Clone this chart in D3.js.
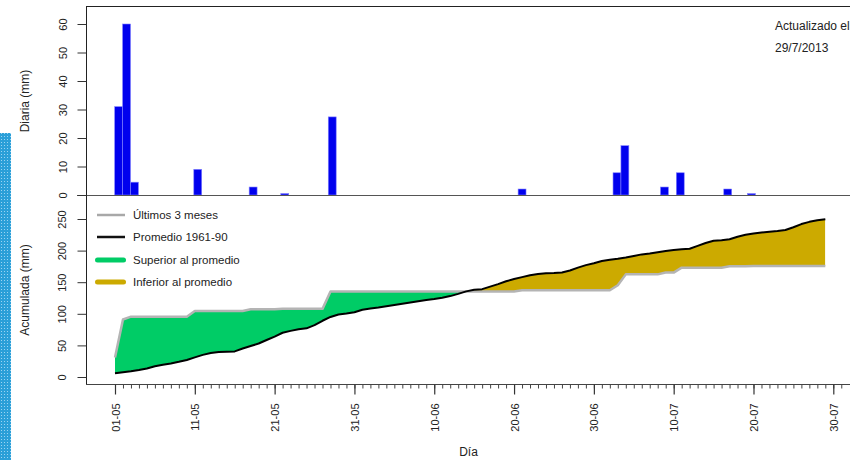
<!DOCTYPE html>
<html>
<head>
<meta charset="utf-8">
<script src="https://cdn.jsdelivr.net/npm/d3@7/dist/d3.min.js"></script>
<style>
  html, body { margin: 0; padding: 0; background: #fff; }
  svg { display: block; font-family: "Liberation Sans", Arial, sans-serif; }
</style>
</head>
<body>
<svg id="chart" width="850" height="460"></svg>
<script>
// Day labels shown on the x axis (every 10 days from 1 May)
const dayTicks = [0, 10, 20, 30, 40, 50, 60, 70, 80, 90];
const dayTickLabels = ["01-05", "11-05", "21-05", "31-05", "10-06", "20-06", "30-06", "10-07", "20-07", "30-07"];

// Daily rainfall (mm), 1 May - 29 Jul 2013, as [day index, mm]
const rainDays = [0, 1, 2, 10, 17, 21, 27, 51, 63, 64, 69, 71, 77, 80];
const rainMm   = [31, 60, 4.5, 9, 2.8, 0.5, 27.4, 2.1, 7.8, 17.3, 2.8, 7.8, 2.1, 0.5];

// Cumulative mean 1961-90 (mm), one value per day from 1 May
const meanCum = [
  6, 7.5, 9, 11, 13.5, 17, 19.5, 21.5, 24, 27,
  31, 35, 38, 39.5, 40, 40.5, 45, 49, 53, 58.5,
  64, 70, 73, 75.5, 77, 82, 89, 95, 99, 100.5,
  102.5, 106.5, 108.5, 110, 112, 114, 116, 118, 120, 122,
  123.5, 125.5, 128, 131.5, 135.5, 138, 139, 143, 147, 151.5,
  155, 158, 161, 163, 164, 164.5, 165.5, 168.5, 173, 177,
  180, 183.5, 185.5, 187, 189, 191.5, 194, 195.5, 197.5, 199.5,
  201, 202, 203, 207.5, 212, 215.5, 216.5, 218, 222, 225,
  227, 228.5, 230, 231, 232.5, 237, 242, 245.5, 248, 249.5
];

const topTicks = [0, 10, 20, 30, 40, 50, 60];
const accTicks = [0, 50, 100, 150, 200, 250];

const legendLabels = ["Últimos 3 meses", "Promedio 1961-90", "Superior al promedio", "Inferior al promedio"];

const nDays = meanCum.length;
// Full daily series and its running total
const daily = d3.range(nDays).map(() => 0);
rainDays.forEach((d, i) => { daily[d] = rainMm[i]; });
const obsCum = d3.cumsum(daily);

const svg = d3.select("#chart");

// ---- left decorative strip ----
const defs = svg.append("defs");
const pat = defs.append("pattern").attr("id", "dots")
  .attr("width", 3).attr("height", 3).attr("patternUnits", "userSpaceOnUse");
pat.append("rect").attr("width", 3).attr("height", 3).attr("fill", "#2a9fd8");
pat.append("rect").attr("x", 1).attr("y", 1).attr("width", 1).attr("height", 1).attr("fill", "#9ad4f2");
svg.append("rect").attr("x", 0).attr("y", 133).attr("width", 11).attr("height", 327).attr("fill", "url(#dots)");

// ---- scales ----
const xTop = d3.scaleLinear().domain([0, 91]).range([114.7, 114.7 + 91 * 7.91]);
const yTop = d3.scaleLinear().domain([0, 60]).range([195, 24]);
const xBot = d3.scaleLinear().domain([0, 90]).range([115, 833.3]);
const yBot = d3.scaleLinear().domain([0, 250]).range([377, 219]);

const frameColor = "#222";

// ---- top panel: daily bars ----
svg.append("g").selectAll("rect").data(rainDays).join("rect")
  .attr("x", (d) => xTop(d))
  .attr("width", (d) => xTop(d + 1) - xTop(d))
  .attr("y", (d, i) => yTop(rainMm[i]))
  .attr("height", (d, i) => yTop(0) - yTop(rainMm[i]))
  .attr("fill", "#0000ee")
  .attr("stroke", "#8080ff")
  .attr("stroke-width", 0.6);

// frame of the top panel
svg.append("line").attr("x1", 86).attr("x2", 850).attr("y1", 6.5).attr("y2", 6.5)
  .attr("stroke", frameColor).attr("stroke-width", 1);
svg.append("line").attr("x1", 77).attr("x2", 850).attr("y1", 195.5).attr("y2", 195.5)
  .attr("stroke", "#555").attr("stroke-width", 1.2);
svg.append("line").attr("x1", 86.5).attr("x2", 86.5).attr("y1", 6).attr("y2", 385)
  .attr("stroke", frameColor).attr("stroke-width", 1);

const yAxisTop = d3.axisLeft(yTop).tickValues(topTicks).tickSize(9).tickPadding(0);
const gTop = svg.append("g").attr("transform", "translate(86.5,0)").call(yAxisTop);
gTop.select(".domain").remove();
gTop.selectAll(".tick line").attr("stroke", "#333");
gTop.selectAll(".tick text")
  .attr("x", -24).attr("y", 0).attr("dy", null)
  .attr("transform", "rotate(-90,-24,0)")
  .attr("text-anchor", "middle").attr("dominant-baseline", "central")
  .attr("font-size", 11).attr("fill", "#222");

svg.append("text").attr("transform", "translate(25,101) rotate(-90)")
  .attr("text-anchor", "middle").attr("dominant-baseline", "central")
  .attr("font-size", 12).attr("fill", "#222").text("Diaria (mm)");

svg.append("text").attr("x", 775).attr("y", 30).attr("font-size", 12).attr("fill", "#222").text("Actualizado el");
svg.append("text").attr("x", 775).attr("y", 51.5).attr("font-size", 12).attr("fill", "#222").text("29/7/2013");

// ---- bottom panel: accumulated rain vs mean ----
const days = d3.range(nDays);
const between = d3.area().x((d) => xBot(d)).y0((d) => yBot(meanCum[d])).y1((d) => yBot(obsCum[d]));
const aboveMean = d3.area().x((d) => xBot(d)).y0(0).y1((d) => yBot(meanCum[d]));
const belowMean = d3.area().x((d) => xBot(d)).y0(460).y1((d) => yBot(meanCum[d]));

defs.append("clipPath").attr("id", "clipAbove").append("path").attr("d", aboveMean(days));
defs.append("clipPath").attr("id", "clipBelow").append("path").attr("d", belowMean(days));

svg.append("path").attr("d", between(days)).attr("fill", "#00cc66").attr("clip-path", "url(#clipAbove)");
svg.append("path").attr("d", between(days)).attr("fill", "#ccaa00").attr("clip-path", "url(#clipBelow)");

const obsLine = d3.line().x((d) => xBot(d)).y((d) => yBot(obsCum[d]));
const meanLine = d3.line().x((d) => xBot(d)).y((d) => yBot(meanCum[d]));
svg.append("path").attr("d", obsLine(days)).attr("fill", "none")
  .attr("stroke", "#b4b4b4").attr("stroke-width", 2.5).attr("stroke-linejoin", "round");
svg.append("path").attr("d", meanLine(days)).attr("fill", "none")
  .attr("stroke", "#000").attr("stroke-width", 2).attr("stroke-linejoin", "round");

// y axis of the accumulated panel
const yAxisBot = d3.axisLeft(yBot).tickValues(accTicks).tickSize(9).tickPadding(0);
const gBot = svg.append("g").attr("transform", "translate(86.5,0)").call(yAxisBot);
gBot.select(".domain").remove();
gBot.selectAll(".tick line").attr("stroke", "#333");
gBot.selectAll(".tick text")
  .attr("x", -25).attr("y", 0).attr("dy", null)
  .attr("transform", "rotate(-90,-25,0)")
  .attr("text-anchor", "middle").attr("dominant-baseline", "central")
  .attr("font-size", 11).attr("fill", "#222");

svg.append("text").attr("transform", "translate(25,290) rotate(-90)")
  .attr("text-anchor", "middle").attr("dominant-baseline", "central")
  .attr("font-size", 12).attr("fill", "#222").text("Acumulada (mm)");

// x axis: daily minor ticks, labelled ticks every 10 days
svg.append("line").attr("x1", 86).attr("x2", 850).attr("y1", 384.5).attr("y2", 384.5)
  .attr("stroke", "#444").attr("stroke-width", 1.2);
const minor = d3.axisBottom(xBot).tickValues(d3.range(0, 92)).tickSize(4).tickFormat("");
const gMinor = svg.append("g").attr("transform", "translate(0,384.5)").call(minor);
gMinor.select(".domain").remove();
gMinor.selectAll(".tick line").attr("stroke", "#444");

const major = d3.axisBottom(xBot).tickValues(dayTicks).tickSize(10)
  .tickFormat((d, i) => dayTickLabels[i]);
const gMajor = svg.append("g").attr("transform", "translate(0,384.5)").call(major);
gMajor.select(".domain").remove();
gMajor.selectAll(".tick line").attr("stroke", "#333").attr("stroke-width", 1.2);
gMajor.selectAll(".tick text")
  .attr("x", -19).attr("y", 0).attr("dy", null)
  .attr("transform", "rotate(-90)")
  .attr("text-anchor", "end").attr("dominant-baseline", "central")
  .attr("font-size", 11).attr("fill", "#222");

svg.append("text").attr("x", 468.5).attr("y", 452).attr("text-anchor", "middle")
  .attr("dominant-baseline", "central").attr("font-size", 12).attr("fill", "#222").text("Día");

// ---- legend ----
const legendStyles = [
  { color: "#a8a8a8", width: 2.5, cap: "butt" },
  { color: "#111", width: 2.5, cap: "butt" },
  { color: "#00cc66", width: 5, cap: "round" },
  { color: "#ccaa00", width: 5, cap: "round" }
];
const legendY = [215, 237, 260, 282];
const lg = svg.append("g");
legendLabels.forEach((lab, i) => {
  const round = legendStyles[i].cap === "round";
  lg.append("line").attr("x1", round ? 97.5 : 97).attr("x2", round ? 123.5 : 125)
    .attr("y1", legendY[i]).attr("y2", legendY[i])
    .attr("stroke", legendStyles[i].color).attr("stroke-width", legendStyles[i].width)
    .attr("stroke-linecap", legendStyles[i].cap);
  lg.append("text").attr("x", 133).attr("y", legendY[i]).attr("dominant-baseline", "central")
    .attr("font-size", 11.5).attr("fill", "#222").text(lab);
});
</script>
</body>
</html>
